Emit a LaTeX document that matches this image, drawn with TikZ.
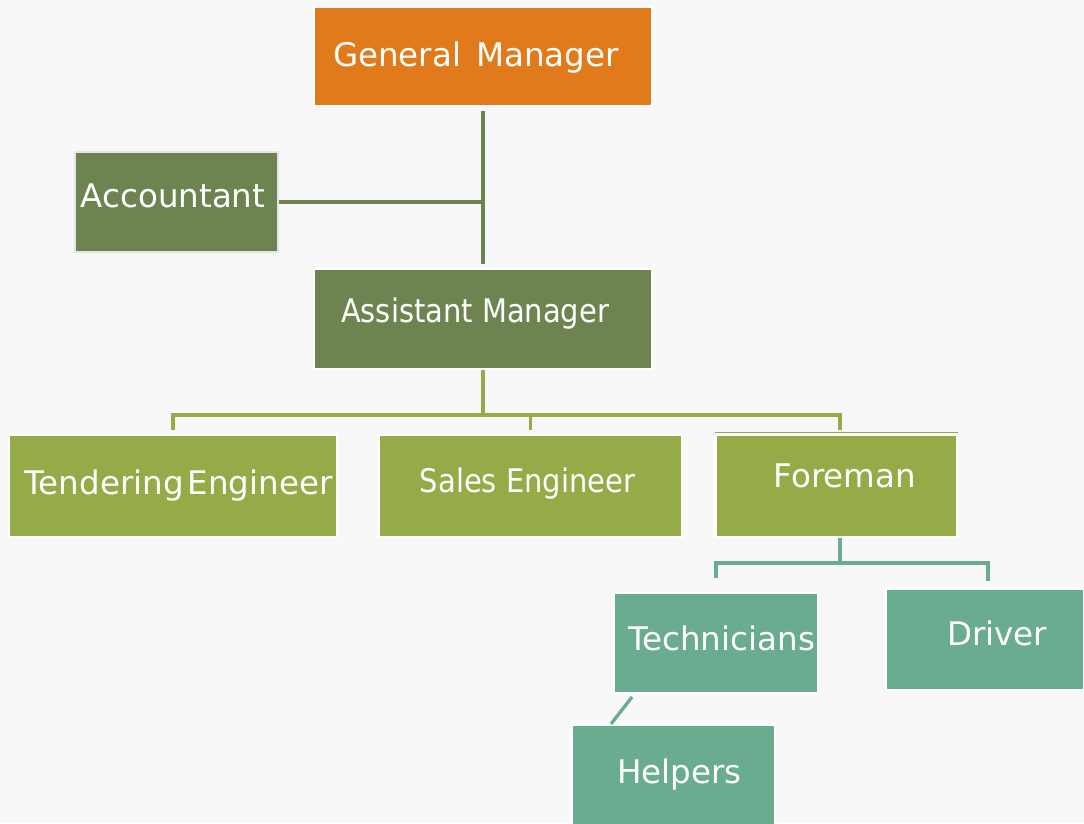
\documentclass[tikz,border=0pt]{standalone}
\usepackage{fontspec}
\setmainfont{DejaVu Sans}
\newfontfamily\narrowfont[FakeStretch=0.89]{DejaVu Sans}
\usetikzlibrary{calc}
\definecolor{gmorange}{HTML}{E07A1A}
\definecolor{darkolive}{HTML}{6E8450}
\definecolor{olivegreen}{HTML}{95AB48}
\definecolor{seagreen}{HTML}{69AC8F}
\definecolor{pagegray}{HTML}{F8F8F8}
\tikzset{
  box/.style={draw=white, line width=1.2pt, inner sep=0pt},
  label/.style={anchor=base, text=white, font=\fontsize{18.5}{21}\selectfont, inner sep=0pt},
  narrowlabel/.style={label, font=\narrowfont\fontsize{18.5}{21}\selectfont},
  link/.style={line width=1.9pt}
}
\begin{document}
\begin{tikzpicture}[x=0.02cm, y=-0.02cm]
    \fill[pagegray] (0,0) rectangle (1084,823);
    \useasboundingbox (0,0) rectangle (1084,823);

    % boxes
    \node[box, fill=gmorange, minimum width=6.76cm, minimum height=1.98cm] (gm) at (483,56.5) {};
    \node[box, draw=black!10, line width=1.6pt, fill=darkolive, minimum width=4.06cm, minimum height=2cm] (acc) at (176.5,202) {};
    \node[box, fill=darkolive, minimum width=6.76cm, minimum height=2cm] (am) at (483,319) {};
    \node[box, fill=olivegreen, minimum width=6.56cm, minimum height=2.04cm] (te) at (173,486) {};
    \node[box, fill=olivegreen, minimum width=6.06cm, minimum height=2.04cm] (se) at (530.5,486) {};
    \node[box, fill=olivegreen, minimum width=4.82cm, minimum height=2.04cm] (fm) at (836.5,486) {};
    \node[box, fill=seagreen, minimum width=4.08cm, minimum height=2cm] (tech) at (716,643) {};
    \node[box, fill=seagreen, minimum width=3.96cm, minimum height=2.02cm] (drv) at (985,639.5) {};
    \node[box, fill=seagreen, minimum width=4.06cm, minimum height=2cm] (help) at (673.5,775) {};

    % texts
    \node[label] (gm-t) at (476,66) {General\hspace{0.15em} Manager};
    \node[label] (acc-t) at (173,207) {Accountant};
    \node[narrowlabel] (am-t) at (475,322) {Assistant Manager};
    \node[label] (te-t) at (178.5,494) {Tendering\hspace{0.12em}Engineer};
    \node[narrowlabel] (se-t) at (527.5,492) {Sales Engineer};
    \node[label] (fm-t) at (845,487) {Foreman};
    \node[label] (tech-t) at (721.5,650) {Technicians};
    \node[label] (drv-t) at (997,645) {Driver};
    \node[label] (help-t) at (679.5,783) {Helpers};

    % connectors
    \coordinate (amfork) at (483,415);
    \coordinate (fmfork) at (840,563);
    \draw[link, darkolive, shorten <=2pt, shorten >=2pt] (gm.south) -- (am.north);
    \draw[link, darkolive] (acc.east) -- (acc.east -| am.north);
    \draw[link, olivegreen] (am.south) -- (amfork);
    \draw[link, olivegreen, shorten >=2pt] (amfork) -| (te.north);
    \draw[link, olivegreen, shorten >=2pt] (amfork) -| (se.north);
    \draw[link, olivegreen, shorten >=2pt] (amfork) -| (fmfork |- fm.north);
    \draw[olivegreen, line width=0.5pt] ([yshift=0.04cm]fm.north west) -- ([yshift=0.04cm]fm.north east);
    \draw[link, seagreen] (fmfork |- fm.south) -- (fmfork);
    \draw[link, seagreen, shorten >=8pt] (fmfork) -| (tech.north);
    \draw[link, seagreen, shorten >=4pt] (fmfork) -| ([xshift=0.06cm]drv.north);
    \draw[link, seagreen] ([xshift=0.38cm,yshift=-0.06cm]tech.south west) -- ([xshift=0.8cm]help.north west);
\end{tikzpicture}
\end{document}
